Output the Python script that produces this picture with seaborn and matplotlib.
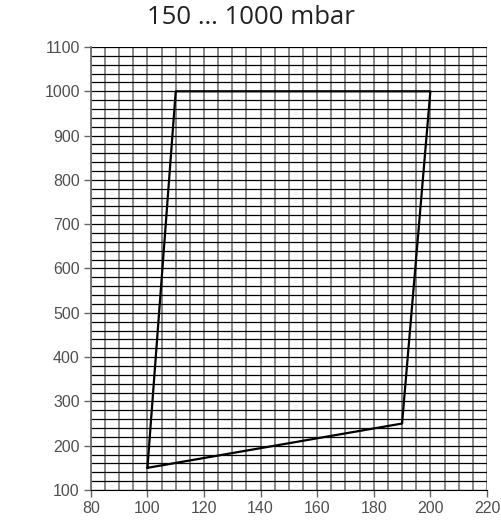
import numpy as np
import pandas as pd
import matplotlib
matplotlib.use("Agg")
import matplotlib.pyplot as plt
import seaborn as sns

# polygon corners (temperature vs pressure), closed
x_vals = [100, 110, 200, 190, 100]
y_vals = [150, 1000, 1000, 250, 150]
x_ticks = [80, 100, 120, 140, 160, 180, 200, 220]
y_ticks = [100, 200, 300, 400, 500, 600, 700, 800, 900, 1000, 1100]
title = "150 … 1000 mbar"

df = pd.DataFrame({"x": x_vals, "y": y_vals})

sns.set_style("white")
plt.rcParams['font.family'] = ['Liberation Sans', 'DejaVu Sans']

fig = plt.figure(figsize=(5.02, 5.28), dpi=100)
ax = fig.add_axes([0.181, 0.072, 0.789, 0.839])

# dense grid: vertical every 5, horizontal every 20
for xv in np.arange(80, 221, 5):
    ax.axvline(xv, color='#808080', lw=1.3, zorder=1)
for yv in np.arange(100, 1101, 20):
    ax.axhline(yv, color='black', lw=0.9, zorder=1)

sns.lineplot(data=df, x="x", y="y", sort=False, estimator=None,
             color='black', lw=1.6, ax=ax, zorder=3)

ax.set_xlim(80, 220)
ax.set_ylim(100, 1100)
ax.set_xticks(x_ticks)
ax.set_yticks(y_ticks)
ax.set_xlabel("")
ax.set_ylabel("")
ax.tick_params(axis='both', direction='out', length=5, width=1, color='#666666',
               labelsize=11.5, labelcolor='#505050', bottom=True, left=True, pad=3)
for side in ['top', 'right']:
    ax.spines[side].set_visible(False)
ax.spines['left'].set_color('#707070')
ax.spines['left'].set_linewidth(1.3)
ax.spines['bottom'].set_color('black')

fig.suptitle(title, y=0.99, fontsize=18.5, color='#222222',
             family=['Open Sans', 'DejaVu Sans'])

fig.savefig("out.png", dpi=100)
